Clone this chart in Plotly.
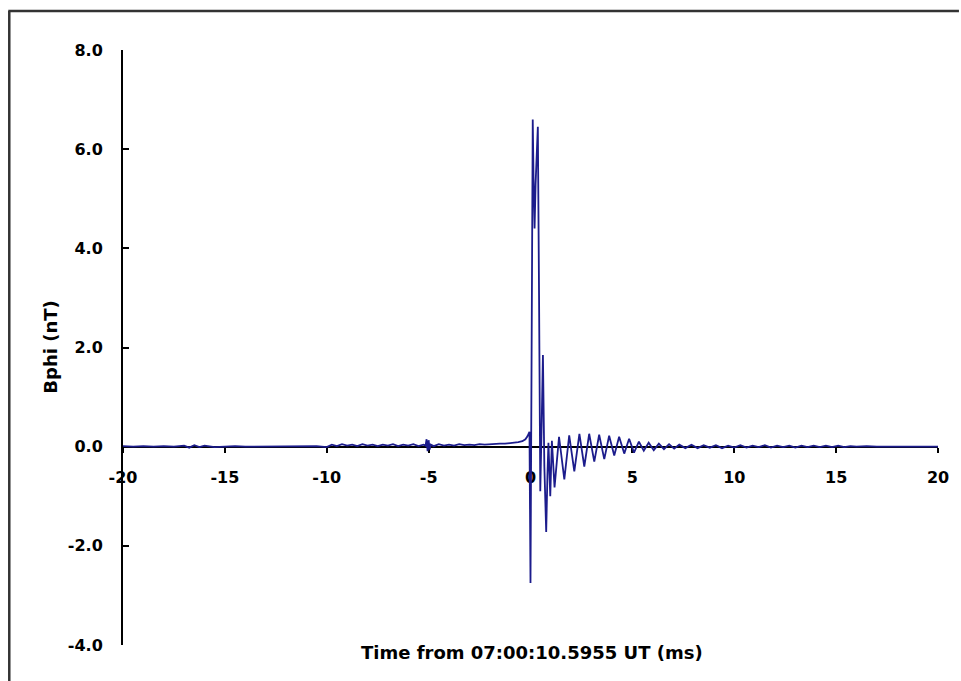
import plotly.graph_objects as go

# Bphi record around the event, time in ms relative to 07:00:10.5955 UT, field in nT

# quiet baseline before the event
t_pre = [-20.0, -19.5, -19.0, -18.5, -18.0, -17.5, -17.0, -16.75, -16.5, -16.25, -16.0,
         -15.5, -15.0, -14.5, -14.0, -13.5, -13.0, -12.5, -12.0, -11.5, -11.0, -10.5,
         -10.0, -9.75, -9.5, -9.25, -9.0, -8.75, -8.5, -8.25, -8.0, -7.75, -7.5, -7.25,
         -7.0, -6.75, -6.5, -6.25, -6.0, -5.75, -5.5, -5.25, -5.15, -5.1, -5.05, -5.0,
         -4.95, -4.9, -4.75, -4.5, -4.25, -4.0, -3.75, -3.5, -3.25, -3.0, -2.75, -2.5,
         -2.25, -2.0, -1.75, -1.5, -1.25, -1.0, -0.8]
b_pre = [0.01, 0.0, 0.01, 0.0, 0.01, 0.0, 0.02, -0.02, 0.03, -0.01, 0.02,
         -0.01, 0.0, 0.01, 0.0, 0.0, 0.01, 0.0, 0.0, 0.01, 0.0, 0.01,
         -0.01, 0.04, 0.01, 0.05, 0.02, 0.04, 0.01, 0.05, 0.02, 0.04, 0.01, 0.04,
         0.02, 0.05, 0.01, 0.04, 0.02, 0.05, 0.01, 0.04, 0.02, 0.15, -0.09, 0.13,
         -0.06, 0.04, 0.01, 0.05, 0.02, 0.04, 0.02, 0.05, 0.03, 0.04, 0.03, 0.05,
         0.04, 0.05, 0.05, 0.06, 0.06, 0.07, 0.08]

# main stroke: precursor rise, negative dip and the two large peaks
t_burst = [-0.6, -0.4, -0.25, -0.15, -0.05, 0.0, 0.04, 0.08, 0.11, 0.15, 0.2, 0.25,
           0.3, 0.36, 0.42, 0.48, 0.55, 0.61, 0.68, 0.77, 0.83, 0.88, 0.97, 1.05]
b_burst = [0.09, 0.11, 0.15, 0.21, 0.3, -2.75, 2.0, 5.2, 6.6, 5.4, 4.4, 5.3,
           6.0, 6.45, 3.0, -0.9, 0.5, 1.85, -0.4, -1.72, -0.6, 0.08, -1.0, 0.12]

# damped ringing after the stroke
t_ring = [1.18, 1.4, 1.66, 1.9, 2.15, 2.4, 2.64, 2.88, 3.13, 3.37, 3.62, 3.86,
          4.11, 4.35, 4.6, 4.84, 5.08, 5.32, 5.56, 5.8, 6.05, 6.3, 6.55, 6.8,
          7.05, 7.3, 7.6, 7.9, 8.2, 8.5]
b_ring = [-0.82, 0.2, -0.66, 0.23, -0.5, 0.26, -0.4, 0.26, -0.3, 0.24, -0.25, 0.22,
          -0.18, 0.2, -0.14, 0.16, -0.12, 0.1, -0.08, 0.08, -0.07, 0.06, -0.05, 0.05,
          -0.04, 0.04, -0.03, 0.04, -0.03, 0.03]

# residual noise and return to baseline
t_tail = [8.8, 9.1, 9.4, 9.7, 10.0, 10.3, 10.6, 10.9, 11.2, 11.5, 11.8, 12.1,
          12.4, 12.7, 13.0, 13.3, 13.6, 13.9, 14.2, 14.5, 14.8, 15.1, 15.4, 15.7,
          16.0, 16.5, 17.0, 18.0, 19.0, 20.0]
b_tail = [-0.02, 0.03, -0.03, 0.02, -0.02, 0.03, -0.02, 0.02, -0.01, 0.03, -0.02, 0.02,
          -0.01, 0.02, -0.02, 0.02, -0.01, 0.02, -0.01, 0.02, -0.01, 0.02, -0.01, 0.01,
          0.0, 0.01, 0.0, 0.0, 0.01, 0.0]

t_all = t_pre + t_burst + t_ring + t_tail
b_all = b_pre + b_burst + b_ring + b_tail

x_ticks = [-20, -15, -10, -5, 0, 5, 10, 15, 20]
x_labels = ["-20", "-15", "-10", "-5", "0", "5", "10", "15", "20"]
y_ticks = [-4, -2, 0, 2, 4, 6, 8]
y_labels = ["-4.0", "-2.0", "0.0", "2.0", "4.0", "6.0", "8.0"]

W, H = 961, 681
ML, MR, MT, MB = 123, 21, 50, 36
plot_w = W - ML - MR
plot_h = H - MT - MB


def px_x(p):
    return (p - ML) / plot_w


def px_y(p):
    return (H - MB - p) / plot_h


FAMILY = "DejaVu Sans, Verdana, sans-serif"
tick_font = dict(family=FAMILY, size=16, color="black", weight="bold")
title_font = dict(family=FAMILY, size=18, color="black", weight="bold")

fig = go.Figure()
fig.add_trace(go.Scatter(
    x=t_all, y=b_all, mode="lines",
    line=dict(color="#1c1c8c", width=1.8),
    hoverinfo="skip", showlegend=False,
))

fig.update_layout(
    width=W, height=H, autosize=False,
    margin=dict(l=ML, r=MR, t=MT, b=MB),
    paper_bgcolor="white", plot_bgcolor="white",
    font=tick_font,
    xaxis=dict(
        range=[-20, 20], tickvals=x_ticks, ticktext=x_labels,
        showgrid=False, zeroline=False,
        showline=True, linecolor="black", linewidth=2,
        ticks="outside", ticklen=5, tickwidth=1.5, tickcolor="black",
        anchor="free", position=4 / 12,
        ticklabelstandoff=11, tickfont=tick_font, layer="below traces",
    ),
    yaxis=dict(
        range=[-4, 8], tickvals=y_ticks, ticktext=y_labels,
        showgrid=False, zeroline=False,
        showline=True, linecolor="black", linewidth=2,
        ticks="inside", ticklen=6, tickwidth=1.5, tickcolor="black",
        ticklabelstandoff=15, tickfont=tick_font, layer="below traces",
    ),
    annotations=[
        dict(text="Bphi (nT)", textangle=-90, showarrow=False,
             xref="paper", yref="paper", x=px_x(50), y=0.5,
             xanchor="center", yanchor="middle", font=title_font),
        dict(text="Time from 07:00:10.5955 UT (ms)", showarrow=False,
             xref="paper", yref="paper", x=px_x(533), y=px_y(652),
             xanchor="center", yanchor="middle", font=title_font),
    ],
    shapes=[
        dict(type="line", xref="paper", yref="paper",
             x0=px_x(8), x1=px_x(961), y0=px_y(11), y1=px_y(11),
             line=dict(color="#333333", width=2.5)),
        dict(type="line", xref="paper", yref="paper",
             x0=px_x(9), x1=px_x(9), y0=px_y(11), y1=px_y(681),
             line=dict(color="#333333", width=2.5)),
    ],
)

fig.write_html("out.html")
